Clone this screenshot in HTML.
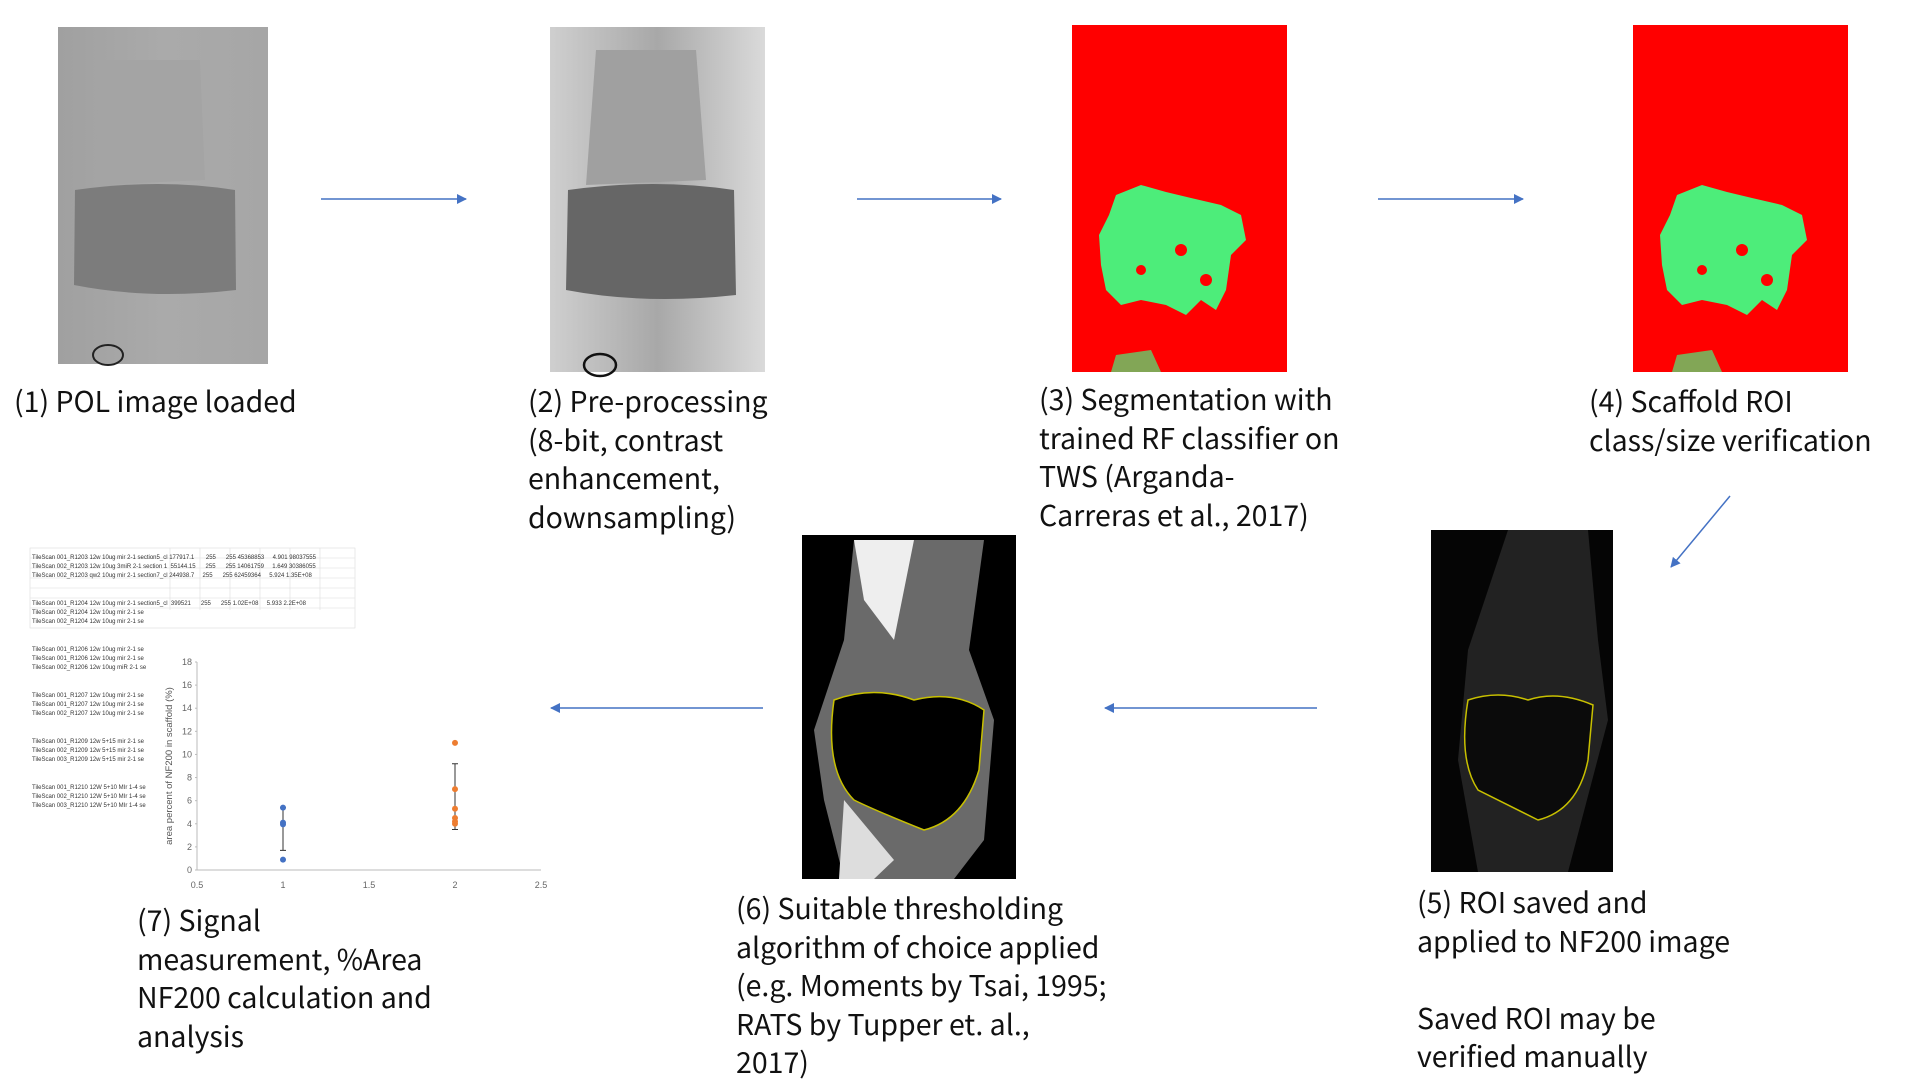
<!DOCTYPE html>
<html><head><meta charset="utf-8">
<style>
body{margin:0;width:1920px;height:1080px;background:#fff;position:relative;overflow:hidden;font-family:"Liberation Sans","Noto Sans CJK JP",sans-serif;}
.abs{position:absolute}
.lbl{position:absolute;font-family:"Noto Sans CJK JP","Liberation Sans",sans-serif;font-size:28.5px;line-height:38.6px;color:#111;white-space:nowrap}
.ss{position:absolute;font-family:"Liberation Sans",sans-serif;font-size:6px;color:#333}
</style></head><body>
<svg class="abs" style="left:0;top:0" width="1920" height="1080">
<defs>
<marker id="ah" markerWidth="10" markerHeight="10" refX="9" refY="5" orient="auto" markerUnits="userSpaceOnUse"><path d="M0,0 L10,5 L0,10 z" fill="#4472c4"/></marker>
<linearGradient id="g1" x1="0" y1="0" x2="1" y2="0"><stop offset="0" stop-color="#a0a0a0"/><stop offset="0.5" stop-color="#aaaaaa"/><stop offset="1" stop-color="#a6a6a6"/></linearGradient>
<linearGradient id="g2" x1="0" y1="0" x2="1" y2="0"><stop offset="0" stop-color="#cfcfcf"/><stop offset="0.5" stop-color="#a8a8a8"/><stop offset="1" stop-color="#dadada"/></linearGradient>
</defs>
<g>
<rect x="58" y="27" width="210" height="337" fill="url(#g1)"/>
<path d="M75,190 Q160,178 235,190 L236,290 Q150,300 74,285 Z" fill="#7c7c7c"/>
<path d="M100,60 L200,60 L205,180 L95,185 Z" fill="#a4a4a4"/>
<ellipse cx="108" cy="355" rx="15" ry="10" fill="none" stroke="#222" stroke-width="2"/>
</g>
<g>
<rect x="550" y="27" width="215" height="345" fill="url(#g2)"/>
<path d="M568,190 Q655,178 734,190 L736,295 Q645,305 566,290 Z" fill="#666"/>
<path d="M596,50 L696,50 L706,180 L586,185 Z" fill="#a0a0a0"/>
<ellipse cx="600" cy="365" rx="16" ry="11" fill="none" stroke="#111" stroke-width="2.5"/>
</g>
<g transform="translate(-9,0)">
<rect x="1081" y="25" width="215" height="347" fill="#ff0000"/>
<path d="M1125,195 L1150,185 L1175,192 L1200,198 L1230,205 L1250,215 L1255,240 L1240,255 L1235,290 L1225,310 L1210,300 L1195,315 L1175,305 L1150,300 L1130,305 L1115,290 L1110,265 L1108,235 L1118,215 Z" fill="#4ded7a"/>
<circle cx="1190" cy="250" r="6" fill="#ff0000"/><circle cx="1150" cy="270" r="5" fill="#ff0000"/><circle cx="1215" cy="280" r="6" fill="#ff0000"/>
<path d="M1125,355 L1160,350 L1170,372 L1120,372 Z" fill="#4ded7a" opacity="0.7"/>
</g>
<g transform="translate(-13,0)">
<rect x="1646" y="25" width="215" height="347" fill="#ff0000"/>
<path d="M1690,195 L1715,185 L1740,192 L1765,198 L1795,205 L1815,215 L1820,240 L1805,255 L1800,290 L1790,310 L1775,300 L1760,315 L1740,305 L1715,300 L1695,305 L1680,290 L1675,265 L1673,235 L1683,215 Z" fill="#4ded7a"/>
<circle cx="1755" cy="250" r="6" fill="#ff0000"/><circle cx="1715" cy="270" r="5" fill="#ff0000"/><circle cx="1780" cy="280" r="6" fill="#ff0000"/>
<path d="M1690,355 L1725,350 L1735,372 L1685,372 Z" fill="#4ded7a" opacity="0.7"/>
</g>
<g transform="translate(-12,0)">
<rect x="1443" y="530" width="182" height="342" fill="#050505"/>
<path d="M1520,530 L1600,530 L1610,640 L1620,720 L1580,872 L1490,872 L1470,760 L1480,650 Z" fill="#222"/>
<path d="M1480,700 Q1510,690 1540,700 Q1570,690 1605,705 L1600,760 Q1590,810 1550,820 Q1510,800 1490,790 Q1470,760 1480,700 Z" fill="#0b0b0b" stroke="#c8c000" stroke-width="1.5"/>
</g>
<g transform="translate(-6,0)">
<rect x="808" y="535" width="214" height="344" fill="#000"/>
<path d="M860,540 L990,540 L975,650 L1000,720 L990,840 L960,879 L850,879 L830,800 L820,730 L850,640 Z" fill="#6a6a6a"/>
<path d="M860,540 L920,540 L900,640 L870,600 Z" fill="#eee"/>
<path d="M850,800 L900,860 L880,879 L845,879 Z" fill="#ddd"/>
<path d="M840,700 Q880,685 920,700 Q960,690 990,710 L985,770 Q970,820 930,830 Q880,810 860,800 Q830,770 840,700 Z" fill="#000" stroke="#c8c000" stroke-width="1.5"/>
</g>
<g stroke="#4472c4" stroke-width="1.5">
<line x1="321" y1="199" x2="466" y2="199" marker-end="url(#ah)"/>
<line x1="857" y1="199" x2="1001" y2="199" marker-end="url(#ah)"/>
<line x1="1378" y1="199" x2="1523" y2="199" marker-end="url(#ah)"/>
<line x1="1730" y1="496" x2="1671" y2="567" marker-end="url(#ah)"/>
<line x1="1317" y1="708" x2="1105" y2="708" marker-end="url(#ah)"/>
<line x1="763" y1="708" x2="551" y2="708" marker-end="url(#ah)"/>
</g>
<g stroke="#ddd" stroke-width="0.6">
<rect x="30" y="548" width="325" height="80" fill="#fff"/>
<line x1="30" y1="558" x2="355" y2="558"/><line x1="30" y1="568" x2="355" y2="568"/><line x1="30" y1="578" x2="355" y2="578"/><line x1="30" y1="588" x2="355" y2="588"/><line x1="30" y1="598" x2="355" y2="598"/><line x1="30" y1="608" x2="355" y2="608"/>
<line x1="170" y1="548" x2="170" y2="610"/><line x1="200" y1="548" x2="200" y2="610"/><line x1="230" y1="548" x2="230" y2="610"/><line x1="260" y1="548" x2="260" y2="610"/><line x1="290" y1="548" x2="290" y2="610"/><line x1="320" y1="548" x2="320" y2="610"/>
</g>
<g id="chart"></g>
</svg>
<div class="ss" style="left:32px;top:554px;line-height:9.2px">
TileScan 001_R1203 12w 10ug mir 2-1 section5_cl 177917.1 &nbsp;&nbsp;&nbsp;&nbsp;&nbsp; 255 &nbsp;&nbsp;&nbsp;&nbsp; 255 45368853 &nbsp;&nbsp;&nbsp; 4.901 98037555<br>
TileScan 002_R1203 12w 10ug 3miR 2-1 section 1 &nbsp;55144.15 &nbsp;&nbsp;&nbsp;&nbsp; 255 &nbsp;&nbsp;&nbsp;&nbsp; 255 14061759 &nbsp;&nbsp;&nbsp; 1.649 30386055<br>
TileScan 002_R1203 qw2 10ug mir 2-1 section7_cl 244938.7 &nbsp;&nbsp;&nbsp; 255 &nbsp;&nbsp;&nbsp;&nbsp; 255 62459364 &nbsp;&nbsp;&nbsp; 5.924 1.35E+08<br><br><br>
TileScan 001_R1204 12w 10ug mir 2-1 section5_cl &nbsp;399521 &nbsp;&nbsp;&nbsp;&nbsp; 255 &nbsp;&nbsp;&nbsp;&nbsp; 255 1.02E+08 &nbsp;&nbsp;&nbsp; 5.933 2.2E+08<br>
TileScan 002_R1204 12w 10ug mir 2-1 se<br>TileScan 002_R1204 12w 10ug mir 2-1 se<br><br><br>
TileScan 001_R1206 12w 10ug mir 2-1 se<br>TileScan 001_R1206 12w 10ug mir 2-1 se<br>TileScan 002_R1206 12w 10ug miR 2-1 se<br><br><br>
TileScan 001_R1207 12w 10ug mir 2-1 se<br>TileScan 001_R1207 12w 10ug mir 2-1 se<br>TileScan 002_R1207 12w 10ug mir 2-1 se<br><br><br>
TileScan 001_R1209 12w 5+15 mir 2-1 se<br>TileScan 002_R1209 12w 5+15 mir 2-1 se<br>TileScan 003_R1209 12w 5+15 mir 2-1 se<br><br><br>
TileScan 001_R1210 12W 5+10 MIr 1-4 se<br>TileScan 002_R1210 12W 5+10 MIr 1-4 se<br>TileScan 003_R1210 12W 5+10 MIr 1-4 se
</div>

<div class="lbl" style="left:14px;top:382px">(1) POL image loaded</div>
<div class="lbl" style="left:528px;top:382px">(2) Pre-processing<br>(8-bit, contrast<br>enhancement,<br>downsampling)</div>
<div class="lbl" style="left:1039px;top:380px">(3) Segmentation with<br>trained RF classifier on<br>TWS (Arganda-<br>Carreras et al., 2017)</div>
<div class="lbl" style="left:1589px;top:382px">(4) Scaffold ROI<br>class/size verification</div>
<div class="lbl" style="left:1417px;top:883px">(5) ROI saved and<br>applied to NF200 image<br><br>Saved ROI may be<br>verified manually</div>
<div class="lbl" style="left:736px;top:889px">(6) Suitable thresholding<br>algorithm of choice applied<br>(e.g. Moments by Tsai, 1995;<br>RATS by Tupper et. al.,<br>2017)</div>
<div class="lbl" style="left:137px;top:901px">(7) Signal<br>measurement, %Area<br>NF200 calculation and<br>analysis</div>

<script>
const xTicks=[0.5,1,1.5,2,2.5];
const yTicks=[0,2,4,6,8,10,12,14,16,18];
const blueX=[1,1,1,1];
const blueY=[5.4,4.1,3.95,0.9];
const orangeX=[2,2,2,2,2,2];
const orangeY=[11,7,5.3,4.5,4.2,4.0];
const errX=[1,2];
const errLow=[1.7,3.5];
const errHigh=[5.4,9.2];
const NS='http://www.w3.org/2000/svg';
const g=document.getElementById('chart');
const X0=197,X1=541,Y0=870,Y1=662;
function sx(v){return X0+(v-0.5)/(2.5-0.5)*(X1-X0);}
function sy(v){return Y0-(v-0)/(18-0)*(Y0-Y1);}
function mk(tag,a){const e=document.createElementNS(NS,tag);for(const k in a)e.setAttribute(k,a[k]);g.appendChild(e);return e;}
let ax=mk('line',{x1:X0,y1:Y0,x2:X1,y2:Y0,stroke:'#bbb','stroke-width':1});


let ay=mk('line',{x1:X0,y1:Y0,x2:X0,y2:Y1,stroke:'#bbb','stroke-width':1});


xTicks.forEach(t=>{const e=mk('text',{x:sx(t),y:Y0+18,'font-size':9,'text-anchor':'middle',fill:'#666','font-family':'Liberation Sans, sans-serif'});e.textContent=t;

});
yTicks.forEach(t=>{const e=mk('text',{x:X0-5,y:sy(t)+3,'font-size':9,'text-anchor':'end',fill:'#666','font-family':'Liberation Sans, sans-serif'});e.textContent=t;


const tk=mk('line',{x1:X0-2,x2:X0,y1:sy(t),y2:sy(t),stroke:'#bbb'});

});
const yt=mk('text',{x:0,y:0,'font-size':9.5,'text-anchor':'middle',fill:'#555','font-family':'Liberation Sans, sans-serif',transform:`translate(172,${(Y0+Y1)/2}) rotate(-90)`});
yt.textContent='area percent of NF200 in scaffold (%)';


errX.forEach((x,i)=>{const e=mk('path',{d:`M${sx(x)},${sy(errLow[i])}V${sy(errHigh[i])}M${sx(x)-3},${sy(errLow[i])}h6M${sx(x)-3},${sy(errHigh[i])}h6`,stroke:'#333','stroke-width':1,fill:'none'});

});
blueX.forEach((x,i)=>{const c=mk('circle',{cx:sx(x),cy:sy(blueY[i]),r:3,fill:'#4472c4'});

});
orangeX.forEach((x,i)=>{const c=mk('circle',{cx:sx(x),cy:sy(orangeY[i]),r:3,fill:'#ed7d31'});

});
</script>
</body></html>
